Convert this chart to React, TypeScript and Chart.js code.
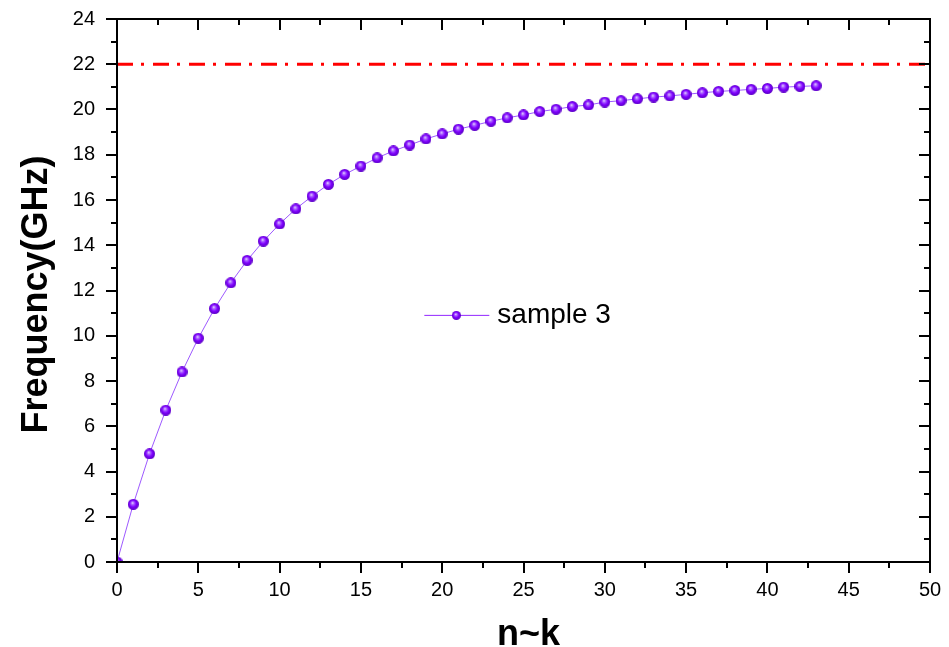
import React, { useEffect, useRef } from "react";
import { Chart, registerables } from "chart.js";

Chart.register(...registerables);

const nValues: number[] = Array.from({ length: 44 }, (_, i) => i);
const frequency: number[] = [
  0, 2.55, 4.78, 6.71, 8.4, 9.89, 11.2, 12.34, 13.33, 14.18, 14.94, 15.61, 16.17,
  16.69, 17.13, 17.5, 17.86, 18.17, 18.43, 18.7, 18.92, 19.13, 19.3, 19.48, 19.63,
  19.76, 19.91, 20.01, 20.13, 20.2, 20.33, 20.39, 20.47, 20.55, 20.6, 20.67, 20.74,
  20.8, 20.84, 20.89, 20.93, 20.99, 21.02, 21.05,
];
const limitX: number[] = [0, 50];
const limitY: number[] = [22, 22];
const seriesLabel = "sample 3";
const xTitle = "n~k";
const yTitle = "Frequency(GHz)";

const FONT = "'Liberation Sans', Arial, sans-serif";

function makeSphere(d: number): HTMLCanvasElement {
  const c = document.createElement("canvas");
  c.width = d;
  c.height = d;
  const ctx = c.getContext("2d")!;
  const g = ctx.createRadialGradient(d * 0.42, d * 0.36, 0, d * 0.5, d * 0.5, d * 0.55);
  g.addColorStop(0, "#f4e8ff");
  g.addColorStop(0.22, "#b070ff");
  g.addColorStop(0.55, "#8000ff");
  g.addColorStop(1, "#5200b8");
  ctx.fillStyle = g;
  ctx.beginPath();
  ctx.arc(d / 2, d / 2, d / 2, 0, Math.PI * 2);
  ctx.fill();
  return c;
}

const framePlugin = {
  id: "originFrame",
  afterDraw(chart: any) {
    const { ctx, chartArea, scales } = chart;
    const { left, right, top, bottom } = chartArea;
    const xs = scales.x;
    const ys = scales.y;
    ctx.save();
    ctx.strokeStyle = "#000";
    ctx.lineWidth = 2;
    ctx.strokeRect(left, top, right - left, bottom - top);
    ctx.beginPath();
    for (let v = 0; v <= 50 + 1e-9; v += 2.5) {
      const px = Math.round(xs.getPixelForValue(v));
      const major = Math.abs(v / 5 - Math.round(v / 5)) < 1e-6;
      const len = major ? 11 : 6;
      ctx.moveTo(px, bottom);
      ctx.lineTo(px, bottom + len);
      ctx.moveTo(px, top);
      ctx.lineTo(px, top + len);
    }
    for (let v = 0; v <= 24; v += 1) {
      const py = Math.round(ys.getPixelForValue(v));
      const len = v % 2 === 0 ? 11 : 6;
      ctx.moveTo(left - len, py);
      ctx.lineTo(left, py);
      ctx.moveTo(right - len, py);
      ctx.lineTo(right, py);
    }
    ctx.stroke();

    ctx.fillStyle = "#000";
    ctx.font = `bold 36px ${FONT}`;
    ctx.textAlign = "center";
    ctx.textBaseline = "alphabetic";
    ctx.fillText(xTitle, (left + right) / 2 + 5, 645);
    ctx.save();
    ctx.translate(47, (top + bottom) / 2 + 4);
    ctx.rotate(-Math.PI / 2);
    ctx.fillText(yTitle, 0, 0);
    ctx.restore();

    const lx = xs.getPixelForValue(18.9);
    const ly = ys.getPixelForValue(10.9);
    ctx.strokeStyle = "rgba(128,0,255,0.85)";
    ctx.lineWidth = 1;
    ctx.beginPath();
    ctx.moveTo(lx, ly);
    ctx.lineTo(lx + 65, ly);
    ctx.stroke();
    const s = makeSphere(9);
    ctx.drawImage(s, lx + 32 - 4.5, ly - 4.5);
    ctx.font = `28px ${FONT}`;
    ctx.textAlign = "left";
    ctx.fillText(seriesLabel, lx + 73, ly + 8);
    ctx.restore();
  },
};

export default function App() {
  const ref = useRef<HTMLCanvasElement | null>(null);
  useEffect(() => {
    if (!ref.current) return;
    const sphere = makeSphere(11);
    const chart = new Chart(ref.current, {
      type: "line",
      data: {
        datasets: [
          {
            label: seriesLabel,
            data: nValues.map((n, i) => ({ x: n, y: frequency[i] })),
            borderColor: "rgba(140,60,255,0.85)",
            borderWidth: 1,
            pointStyle: sphere as any,
            pointRadius: 5.5,
            clip: 0 as any,
            order: 1,
          },
          {
            label: "limit",
            data: limitX.map((x, i) => ({ x, y: limitY[i] })),
            borderColor: "#ff0000",
            borderWidth: 3,
            borderDash: [16, 8, 3, 9],
            pointRadius: 0,
            order: 2,
          },
        ],
      },
      options: {
        animation: false,
        responsive: false,
        layout: { padding: { top: 19, right: 19, left: 0, bottom: 0 } },
        plugins: { legend: { display: false }, tooltip: { enabled: false } },
        scales: {
          x: {
            type: "linear",
            min: 0,
            max: 50,
            grid: { display: false, drawTicks: false },
            border: { display: false },
            ticks: {
              stepSize: 5,
              color: "#000",
              padding: 16,
              font: { family: FONT, size: 20 },
            },
            afterFit: (s: any) => {
              s.height = 85;
              s.paddingLeft = 0;
              s.paddingRight = 0;
            },
          },
          y: {
            type: "linear",
            min: 0,
            max: 24,
            grid: { display: false, drawTicks: false },
            border: { display: false },
            ticks: {
              stepSize: 2,
              color: "#000",
              padding: 22,
              font: { family: FONT, size: 20 },
            },
            afterFit: (s: any) => {
              s.width = 117;
              s.paddingTop = 0;
              s.paddingBottom = 0;
            },
          },
        },
      },
      plugins: [framePlugin],
    });
    return () => chart.destroy();
  }, []);
  return (
    <div style={{ position: "absolute", left: 0, top: 0, width: 949, height: 647, background: "#fff" }}>
      <canvas ref={ref} width={949} height={647} style={{ display: "block" }} />
    </div>
  );
}
